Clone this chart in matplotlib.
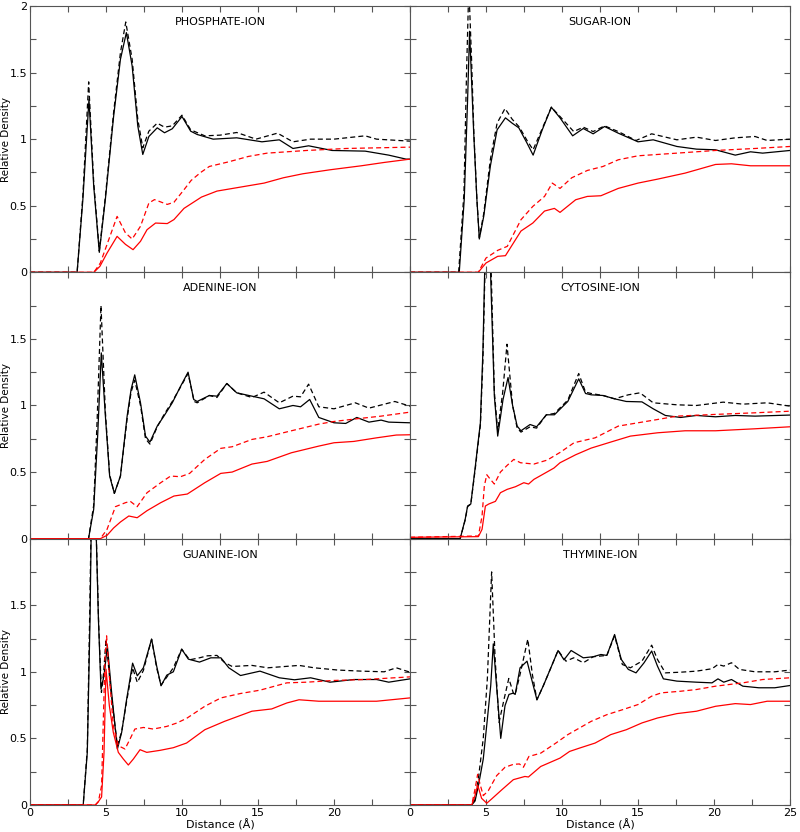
import matplotlib
matplotlib.use("Agg")
import matplotlib.pyplot as plt
from matplotlib.ticker import MultipleLocator

# titulos de los paneles
titles = ["PHOSPHATE-ION", "SUGAR-ION", "ADENINE-ION", "CYTOSINE-ION", "GUANINE-ION", "THYMINE-ION"]

# ---- PHOSPHATE ----
phos_bs_x = [0, 3.1, 3.48, 3.88, 4.19, 4.56, 4.96, 5.5, 5.95, 6.34, 6.72, 7.09, 7.42, 7.82, 8.37, 8.85, 9.36, 10.0, 10.57, 11.0, 12.05, 13.6, 15.26, 16.4, 17.3, 18.33, 19.87, 22.05, 23.6, 24.74, 25]
phos_bs_y = [0, 0, 0.55, 1.30, 0.65, 0.15, 0.55, 1.17, 1.6, 1.80, 1.55, 1.10, 0.885, 1.02, 1.085, 1.048, 1.078, 1.17, 1.06, 1.035, 1.0, 1.01, 0.98, 0.995, 0.93, 0.95, 0.915, 0.91, 0.88, 0.85, 0.85]
phos_bd_x = [0, 3.1, 3.48, 3.86, 4.19, 4.56, 4.96, 5.5, 5.95, 6.3, 6.72, 7.09, 7.42, 7.82, 8.37, 8.85, 9.36, 10.0, 10.57, 11.5, 12.5, 13.6, 14.87, 16.28, 17.3, 18.46, 20.0, 22.05, 22.8, 25]
phos_bd_y = [0, 0, 0.58, 1.43, 0.68, 0.16, 0.57, 1.2, 1.65, 1.88, 1.6, 1.15, 0.935, 1.06, 1.12, 1.09, 1.10, 1.18, 1.07, 1.025, 1.03, 1.05, 1.0, 1.045, 0.98, 1.0, 1.0, 1.025, 1.0, 0.985]
phos_rs_x = [0, 4.2, 4.6, 5.07, 5.73, 6.28, 6.78, 7.27, 7.7, 8.26, 9.03, 9.47, 10.13, 11.28, 12.3, 13.85, 15.4, 16.67, 17.95, 19.74, 21.8, 23.3, 25]
phos_rs_y = [0, 0, 0.045, 0.145, 0.27, 0.21, 0.17, 0.233, 0.32, 0.37, 0.366, 0.396, 0.48, 0.565, 0.61, 0.64, 0.67, 0.71, 0.74, 0.77, 0.80, 0.825, 0.85]
phos_rd_x = [0, 4.2, 4.63, 5.18, 5.73, 6.28, 6.72, 7.27, 7.82, 8.19, 9.03, 9.47, 10.13, 10.6, 11.23, 11.8, 13.08, 14.36, 15.6, 18.2, 20.8, 25]
phos_rd_y = [0, 0, 0.07, 0.245, 0.42, 0.296, 0.25, 0.346, 0.52, 0.546, 0.51, 0.526, 0.62, 0.69, 0.75, 0.795, 0.83, 0.87, 0.895, 0.915, 0.93, 0.94]

# ---- SUGAR ----
sug_bs_x = [0, 3.24, 3.57, 3.79, 3.92, 4.19, 4.4, 4.56, 4.85, 5.29, 5.73, 6.28, 6.72, 7.16, 7.7, 8.1, 8.7, 9.3, 9.87, 10.7, 11.4, 12.05, 12.8, 13.7, 15.0, 16.0, 17.56, 18.85, 20.1, 21.4, 22.4, 23.2, 25]
sug_bs_y = [0, 0, 0.55, 1.30, 1.81, 1.05, 0.55, 0.25, 0.42, 0.8, 1.07, 1.16, 1.12, 1.085, 0.97, 0.88, 1.07, 1.24, 1.16, 1.025, 1.08, 1.04, 1.095, 1.045, 0.98, 0.995, 0.945, 0.925, 0.92, 0.88, 0.905, 0.895, 0.915]
sug_bd_x = [0, 3.2, 3.55, 3.72, 3.87, 4.05, 4.2, 4.4, 4.56, 4.85, 5.29, 5.73, 6.25, 6.72, 7.2, 7.7, 8.1, 8.7, 9.3, 9.87, 10.77, 11.4, 12.05, 12.8, 13.7, 14.87, 15.9, 17.56, 18.85, 20.1, 21.4, 22.7, 23.5, 25]
sug_bd_y = [0, 0, 0.6, 1.5, 2.15, 1.6, 1.05, 0.55, 0.26, 0.44, 0.85, 1.12, 1.23, 1.15, 1.09, 0.99, 0.92, 1.08, 1.24, 1.17, 1.057, 1.09, 1.057, 1.1, 1.057, 0.99, 1.04, 0.995, 1.015, 0.99, 1.01, 1.02, 0.99, 1.0]
sug_rs_x = [0, 4.49, 5.0, 5.77, 6.28, 7.3, 8.08, 8.85, 9.5, 9.87, 10.9, 11.67, 12.56, 13.7, 15.0, 16.3, 18.1, 20.1, 21.15, 22.4, 25]
sug_rs_y = [0, 0, 0.07, 0.12, 0.125, 0.31, 0.37, 0.46, 0.48, 0.45, 0.545, 0.57, 0.575, 0.63, 0.67, 0.70, 0.745, 0.81, 0.815, 0.80, 0.80]
sug_rd_x = [0, 4.49, 5.0, 5.77, 6.4, 7.3, 8.08, 8.85, 9.36, 9.87, 10.64, 11.67, 12.7, 13.7, 15.0, 17.56, 20.1, 22.7, 25]
sug_rd_y = [0, 0, 0.107, 0.165, 0.195, 0.395, 0.495, 0.57, 0.67, 0.63, 0.71, 0.765, 0.795, 0.845, 0.875, 0.895, 0.915, 0.93, 0.945]

# ---- ADENINE ----
ade_bs_x = [0, 3.85, 4.19, 4.45, 4.69, 4.96, 5.24, 5.55, 5.95, 6.39, 6.65, 6.89, 7.27, 7.6, 7.89, 8.37, 8.81, 9.36, 9.91, 10.4, 10.77, 11.0, 11.8, 12.3, 12.95, 13.6, 14.6, 15.4, 16.4, 17.3, 17.8, 18.4, 19.0, 20.0, 20.77, 21.5, 22.3, 23.1, 23.6, 25]
ade_bs_y = [0, 0, 0.22, 0.77, 1.395, 0.92, 0.47, 0.34, 0.47, 0.92, 1.12, 1.23, 1.02, 0.77, 0.725, 0.845, 0.92, 1.02, 1.145, 1.25, 1.045, 1.03, 1.075, 1.07, 1.165, 1.095, 1.07, 1.05, 0.975, 1.0, 0.99, 1.045, 0.91, 0.87, 0.865, 0.91, 0.875, 0.89, 0.875, 0.87]
ade_bd_x = [0, 3.85, 4.19, 4.42, 4.67, 4.96, 5.24, 5.55, 5.95, 6.39, 6.65, 6.89, 7.27, 7.6, 7.89, 8.37, 8.81, 9.36, 9.91, 10.4, 10.8, 11.0, 11.8, 12.3, 12.95, 13.6, 14.6, 15.4, 16.4, 17.3, 17.8, 18.33, 19.0, 20.0, 21.4, 22.3, 24.0, 25]
ade_bd_y = [0, 0, 0.25, 0.9, 1.75, 0.95, 0.48, 0.34, 0.47, 0.9, 1.1, 1.19, 1.0, 0.75, 0.71, 0.84, 0.93, 1.03, 1.14, 1.24, 1.03, 1.02, 1.075, 1.06, 1.165, 1.095, 1.06, 1.1, 1.02, 1.07, 1.065, 1.16, 0.99, 0.975, 1.02, 0.98, 1.03, 0.995]
ade_rs_x = [0, 4.63, 5.07, 5.5, 5.95, 6.5, 7.05, 7.7, 8.6, 9.47, 10.35, 11.5, 12.55, 13.3, 14.6, 15.6, 17.2, 19.0, 20.0, 21.3, 22.8, 24.1, 25]
ade_rs_y = [0, 0, 0.025, 0.08, 0.125, 0.17, 0.157, 0.21, 0.27, 0.32, 0.335, 0.42, 0.49, 0.5, 0.56, 0.58, 0.645, 0.695, 0.72, 0.73, 0.757, 0.778, 0.78]
ade_rd_x = [0, 4.63, 5.07, 5.62, 6.28, 6.6, 7.05, 7.7, 8.6, 9.25, 9.9, 10.5, 11.5, 12.55, 13.3, 14.6, 15.6, 17.2, 19.0, 20.0, 21.5, 23.1, 25]
ade_rd_y = [0, 0, 0.07, 0.24, 0.27, 0.28, 0.24, 0.345, 0.42, 0.47, 0.465, 0.49, 0.595, 0.678, 0.69, 0.745, 0.765, 0.81, 0.86, 0.88, 0.9, 0.92, 0.95]

# ---- CYTOSINE ----
cyt_bs_x = [0, 3.3, 3.63, 3.79, 4.0, 4.3, 4.45, 4.63, 4.8, 4.95, 5.1, 5.3, 5.55, 5.77, 6.12, 6.45, 6.75, 7.05, 7.3, 7.9, 8.33, 8.97, 9.5, 10.38, 11.1, 11.55, 11.92, 12.7, 13.46, 14.23, 15.26, 16.0, 16.8, 17.8, 18.85, 20.1, 21.4, 22.7, 25]
cyt_bs_y = [0, 0, 0.145, 0.245, 0.26, 0.545, 0.695, 0.87, 1.42, 2.2, 2.6, 2.0, 1.07, 0.77, 1.045, 1.21, 1.0, 0.845, 0.81, 0.857, 0.84, 0.93, 0.93, 1.03, 1.2, 1.09, 1.08, 1.075, 1.05, 1.03, 1.027, 0.975, 0.925, 0.91, 0.925, 0.915, 0.925, 0.92, 0.928]
cyt_bd_x = [0, 3.3, 3.63, 3.79, 4.0, 4.3, 4.45, 4.63, 4.8, 4.95, 5.12, 5.32, 5.55, 5.77, 6.1, 6.38, 6.75, 7.05, 7.3, 7.9, 8.33, 8.97, 9.5, 10.38, 11.1, 11.55, 11.92, 12.7, 13.46, 14.36, 15.13, 16.0, 17.56, 18.85, 20.6, 21.9, 23.5, 25]
cyt_bd_y = [0, 0, 0.14, 0.24, 0.26, 0.53, 0.68, 0.85, 1.35, 2.1, 2.6, 2.1, 1.1, 0.81, 1.1, 1.46, 1.0, 0.83, 0.80, 0.84, 0.83, 0.93, 0.94, 1.04, 1.24, 1.1, 1.09, 1.075, 1.05, 1.08, 1.095, 1.02, 1.005, 1.0, 1.025, 1.01, 1.02, 0.995]
cyt_rs_x = [0, 4.5, 4.74, 4.96, 5.18, 5.62, 5.95, 6.39, 6.94, 7.49, 7.8, 8.15, 8.85, 9.47, 9.87, 10.9, 11.92, 13.2, 14.5, 16.3, 18.1, 20.1, 22.7, 25]
cyt_rs_y = [0.01, 0.015, 0.07, 0.245, 0.26, 0.28, 0.345, 0.37, 0.39, 0.42, 0.41, 0.445, 0.49, 0.53, 0.57, 0.63, 0.68, 0.725, 0.77, 0.795, 0.81, 0.81, 0.825, 0.84]
cyt_rd_x = [0, 4.5, 4.74, 4.89, 5.05, 5.29, 5.55, 5.95, 6.39, 6.83, 7.27, 8.15, 9.03, 9.91, 10.79, 12.18, 13.7, 15.0, 16.3, 17.56, 20.1, 22.7, 25]
cyt_rd_y = [0.01, 0.02, 0.17, 0.395, 0.48, 0.445, 0.41, 0.5, 0.55, 0.595, 0.57, 0.56, 0.59, 0.65, 0.72, 0.757, 0.845, 0.87, 0.895, 0.92, 0.933, 0.945, 0.957]

# ---- GUANINE ----
gua_bs_x = [0, 3.5, 3.77, 3.95, 4.1, 4.25, 4.5, 4.67, 4.87, 5.09, 5.37, 5.59, 5.75, 6.03, 6.36, 6.75, 7.06, 7.46, 8.0, 8.33, 8.62, 9.0, 9.43, 9.98, 10.42, 11.15, 11.9, 12.56, 13.08, 13.85, 15.13, 16.4, 17.4, 18.46, 19.74, 21.3, 22.8, 23.6, 25]
gua_bs_y = [0, 0, 0.395, 1.4, 2.7, 2.5, 1.4, 0.87, 0.97, 1.195, 0.845, 0.595, 0.42, 0.545, 0.795, 1.065, 0.97, 1.03, 1.245, 1.045, 0.895, 0.975, 1.0, 1.17, 1.095, 1.073, 1.105, 1.105, 1.03, 0.972, 1.005, 0.955, 0.94, 0.955, 0.922, 0.942, 0.942, 0.922, 0.947]
gua_bd_x = [0, 3.5, 3.77, 3.93, 4.1, 4.25, 4.52, 4.7, 4.85, 5.0, 5.3, 5.59, 5.75, 6.03, 6.36, 6.75, 7.06, 7.46, 8.0, 8.33, 8.62, 9.0, 9.43, 9.98, 10.5, 11.15, 11.67, 12.3, 12.8, 13.3, 14.6, 15.64, 17.7, 18.7, 20.26, 21.8, 23.3, 24.1, 25]
gua_bd_y = [0, 0, 0.42, 1.45, 2.7, 2.5, 1.35, 0.845, 1.0, 1.245, 0.88, 0.6, 0.445, 0.55, 0.78, 1.03, 0.92, 1.01, 1.245, 1.03, 0.9, 0.96, 1.03, 1.17, 1.09, 1.105, 1.12, 1.123, 1.07, 1.04, 1.048, 1.03, 1.048, 1.03, 1.013, 1.005, 1.0, 1.03, 0.997]
gua_rs_x = [0, 4.3, 4.5, 4.71, 4.87, 5.0, 5.22, 5.48, 5.81, 6.14, 6.47, 6.8, 7.24, 7.68, 8.55, 9.43, 10.3, 11.5, 12.8, 14.6, 15.9, 16.9, 17.7, 19.0, 20.8, 22.8, 25]
gua_rs_y = [0, 0, 0.025, 0.06, 0.395, 1.02, 0.745, 0.545, 0.395, 0.345, 0.3, 0.345, 0.415, 0.395, 0.41, 0.43, 0.465, 0.565, 0.628, 0.704, 0.721, 0.766, 0.79, 0.779, 0.779, 0.779, 0.804]
gua_rd_x = [0, 4.3, 4.5, 4.71, 4.93, 5.04, 5.22, 5.48, 5.81, 6.25, 6.58, 6.9, 7.46, 8.11, 9.0, 9.65, 10.3, 11.5, 12.56, 13.85, 15.13, 16.9, 18.2, 20.0, 22.05, 25]
gua_rd_y = [0, 0, 0.025, 0.145, 1.095, 1.27, 0.97, 0.595, 0.445, 0.42, 0.495, 0.57, 0.582, 0.57, 0.59, 0.615, 0.65, 0.741, 0.804, 0.837, 0.862, 0.917, 0.922, 0.935, 0.942, 0.962]

# ---- THYMINE ----
thy_bs_x = [0, 4.06, 4.28, 4.5, 4.82, 5.09, 5.31, 5.48, 5.66, 5.97, 6.25, 6.51, 6.8, 6.92, 7.24, 7.7, 8.0, 8.35, 8.77, 9.23, 9.74, 10.13, 10.6, 11.4, 12.05, 12.56, 12.95, 13.46, 13.9, 14.36, 14.87, 15.4, 15.9, 16.28, 16.67, 17.56, 18.85, 19.87, 20.26, 20.64, 21.15, 21.9, 22.95, 24.0, 25]
thy_bs_y = [0, 0, 0.03, 0.145, 0.345, 0.645, 0.895, 1.21, 0.945, 0.5, 0.745, 0.83, 0.84, 0.83, 1.03, 1.08, 0.945, 0.79, 0.895, 1.02, 1.16, 1.09, 1.16, 1.105, 1.113, 1.13, 1.123, 1.28, 1.093, 1.018, 0.992, 1.068, 1.156, 1.043, 0.947, 0.93, 0.922, 0.917, 0.947, 0.922, 0.942, 0.892, 0.88, 0.88, 0.897]
thy_bd_x = [0, 4.06, 4.28, 4.5, 4.82, 5.09, 5.37, 5.6, 5.86, 6.2, 6.5, 6.8, 6.92, 7.24, 7.75, 8.05, 8.35, 8.77, 9.23, 9.74, 10.26, 10.77, 11.4, 12.05, 12.95, 13.46, 13.97, 14.5, 15.26, 15.9, 16.28, 16.8, 17.8, 18.85, 19.87, 20.26, 20.64, 21.15, 21.67, 22.7, 24.0, 25]
thy_bd_y = [0, 0, 0.04, 0.2, 0.5, 0.95, 1.75, 1.1, 0.62, 0.8, 0.95, 0.84, 0.83, 0.98, 1.245, 0.98, 0.79, 0.895, 1.02, 1.16, 1.08, 1.105, 1.068, 1.113, 1.123, 1.27, 1.055, 1.03, 1.08, 1.2, 1.093, 0.992, 0.997, 1.005, 1.023, 1.055, 1.043, 1.068, 1.018, 1.0, 1.0, 1.013]
thy_rs_x = [0, 4.06, 4.25, 4.45, 4.71, 5.05, 5.37, 6.03, 6.8, 7.56, 7.79, 8.6, 9.87, 10.5, 11.15, 12.18, 13.2, 14.23, 15.26, 16.28, 17.56, 18.85, 20.1, 21.4, 22.4, 23.5, 25]
thy_rs_y = [0, 0, 0.06, 0.15, 0.05, 0.013, 0.045, 0.113, 0.19, 0.214, 0.21, 0.289, 0.352, 0.402, 0.427, 0.465, 0.528, 0.565, 0.616, 0.653, 0.686, 0.704, 0.741, 0.761, 0.754, 0.779, 0.779]
thy_rd_x = [0, 4.06, 4.28, 4.45, 4.6, 4.82, 5.15, 5.7, 6.25, 6.8, 7.2, 7.46, 7.82, 8.6, 9.6, 10.38, 11.15, 11.92, 12.95, 14.0, 15.0, 15.9, 16.54, 17.8, 18.85, 20.1, 21.9, 23.2, 25]
thy_rd_y = [0, 0, 0.12, 0.23, 0.16, 0.07, 0.107, 0.22, 0.283, 0.305, 0.308, 0.283, 0.364, 0.389, 0.465, 0.528, 0.578, 0.628, 0.678, 0.716, 0.754, 0.817, 0.842, 0.854, 0.867, 0.892, 0.917, 0.942, 0.955]

# tabla de paneles (en orden de lectura)
paneles = [
    (phos_bs_x, phos_bs_y, phos_bd_x, phos_bd_y, phos_rs_x, phos_rs_y, phos_rd_x, phos_rd_y),
    (sug_bs_x, sug_bs_y, sug_bd_x, sug_bd_y, sug_rs_x, sug_rs_y, sug_rd_x, sug_rd_y),
    (ade_bs_x, ade_bs_y, ade_bd_x, ade_bd_y, ade_rs_x, ade_rs_y, ade_rd_x, ade_rd_y),
    (cyt_bs_x, cyt_bs_y, cyt_bd_x, cyt_bd_y, cyt_rs_x, cyt_rs_y, cyt_rd_x, cyt_rd_y),
    (gua_bs_x, gua_bs_y, gua_bd_x, gua_bd_y, gua_rs_x, gua_rs_y, gua_rd_x, gua_rd_y),
    (thy_bs_x, thy_bs_y, thy_bd_x, thy_bd_y, thy_rs_x, thy_rs_y, thy_rd_x, thy_rd_y),
]

fig, axs = plt.subplots(3, 2, figsize=(8, 8.32), dpi=100)
fig.subplots_adjust(left=0.0375, right=0.9875, top=0.9928, bottom=0.0325, wspace=0, hspace=0)

lw = 0.9
dash = (0, (4, 2.5))
gris = "#555555"

for i, ax in enumerate(axs.flat):
    bsx, bsy, bdx, bdy, rsx, rsy, rdx, rdy = paneles[i]
    ax.plot(bsx, bsy, color="black", lw=lw)
    ax.plot(bdx, bdy, color="black", lw=lw, linestyle=dash)
    ax.plot(rsx, rsy, color="red", lw=lw)
    ax.plot(rdx, rdy, color="red", lw=lw, linestyle=dash)
    ax.set_xlim(0, 25)
    ax.set_ylim(0, 2)
    ax.text(0.5, 0.94, titles[i], transform=ax.transAxes, ha="center", va="center", fontsize=8)
    ax.xaxis.set_major_locator(MultipleLocator(5))
    ax.xaxis.set_minor_locator(MultipleLocator(2.5))
    ax.yaxis.set_major_locator(MultipleLocator(0.5))
    ax.yaxis.set_minor_locator(MultipleLocator(0.25))
    ax.tick_params(which="both", direction="in", top=True, right=True, length=4, width=0.8,
                   color=gris, labelsize=8, pad=2)
    for s in ax.spines.values():
        s.set_color(gris)
        s.set_linewidth(0.8)
    fila, col = divmod(i, 2)
    if col == 0:
        ax.set_ylabel("Relative Density", fontsize=7.5)
        ax.yaxis.set_label_coords(-0.049, 0.5)
        ax.set_yticks([0, 0.5, 1, 1.5, 2])
        if fila == 0:
            ax.set_yticklabels(["0", "0.5", "1", "1.5", "2"])
        else:
            ax.set_yticklabels(["0", "0.5", "1", "1.5", ""])
    else:
        ax.tick_params(labelleft=False)
    if fila == 2:
        ax.set_xlabel("Distance (Å)", fontsize=8, labelpad=1)
        ax.set_xticks([0, 5, 10, 15, 20, 25])
        if col == 0:
            ax.set_xticklabels(["0", "5", "10", "15", "20", ""])
        else:
            ax.set_xticklabels(["0", "5", "10", "15", "20", "25"])
    else:
        ax.tick_params(labelbottom=False)

plt.savefig("out.png", dpi=100)
